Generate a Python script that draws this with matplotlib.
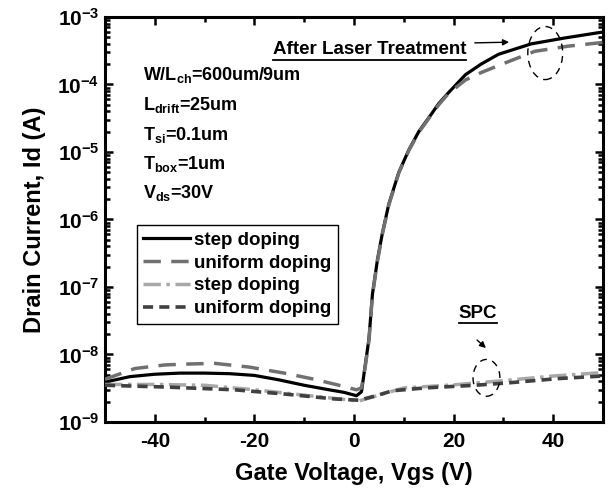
import matplotlib
matplotlib.use('Agg')
import matplotlib.pyplot as plt
import numpy as np
from matplotlib.ticker import MultipleLocator, LogLocator, FuncFormatter, NullFormatter
from matplotlib.patches import Ellipse, FancyArrowPatch

plt.rcParams['font.family'] = 'Liberation Sans'
plt.rcParams['font.weight'] = 'bold'
plt.rcParams['axes.labelweight'] = 'bold'
plt.rcParams['axes.unicode_minus'] = False
plt.rcParams['mathtext.fontset'] = 'custom'
plt.rcParams['mathtext.rm'] = 'Liberation Sans:bold'
plt.rcParams['mathtext.it'] = 'Liberation Sans:bold'
plt.rcParams['mathtext.bf'] = 'Liberation Sans:bold'
plt.rcParams['mathtext.default'] = 'rm'

# --- data ---
vgs_laser = [-50, -45, -40, -35, -30, -25, -20, -15, -10, -5, -2, 0.5, 1.5, 2.2, 3, 3.7,
             4.7, 5.7, 7, 9, 11, 13, 15.6, 17, 19, 22.4, 25.5, 29, 35.6, 42.4, 50]
id_laser_step = [3.9e-9, 4.7e-9, 5.1e-9, 5.3e-9, 5.3e-9, 5.2e-9, 4.9e-9, 4.2e-9, 3.5e-9,
                 3.0e-9, 2.75e-9, 2.45e-9, 2.8e-9, 6.5e-9, 1.7e-8, 7.8e-8, 2.5e-7, 6.3e-7,
                 1.7e-6, 5.0e-6, 1.07e-5, 2.0e-5, 3.7e-5, 5.2e-5, 7.6e-5, 1.4e-4, 2.0e-4,
                 2.8e-4, 4.0e-4, 4.9e-4, 6.0e-4]

vgs_laser_u = [-50, -44, -38, -34, -28, -21, -14, -8, -3, 0.5, 1.5, 2.2, 3, 3.7, 4.7, 5.7,
               7, 9, 11, 13, 15.6, 17, 19, 22.4, 25.5, 29.7, 36.3, 43, 50]
id_laser_uniform = [4.3e-9, 6.2e-9, 7.0e-9, 7.2e-9, 7.4e-9, 6.5e-9, 5.3e-9, 4.3e-9, 3.5e-9,
                    3.0e-9, 3.2e-9, 6.2e-9, 1.6e-8, 7.5e-8, 2.4e-7, 6.1e-7, 1.65e-6, 4.9e-6,
                    1.05e-5, 1.95e-5, 3.6e-5, 5.0e-5, 7.4e-5, 1.17e-4, 1.5e-4, 2.0e-4,
                    3.1e-4, 3.7e-4, 4.2e-4]

vgs_spc = [-50, -40, -30, -20, -10, -3, 1, 5, 10, 20, 30, 40, 50]
id_spc_step = [3.6e-9, 3.6e-9, 3.5e-9, 3.0e-9, 2.5e-9, 2.2e-9, 2.05e-9, 2.5e-9, 3.2e-9,
               3.55e-9, 4.1e-9, 4.8e-9, 5.4e-9]

vgs_spc_u = [-50, -38, -24, -14, -4, 1, 4, 7.7, 14.3, 24.3, 31, 41, 50]
id_spc_uniform = [3.5e-9, 3.3e-9, 3.0e-9, 2.6e-9, 2.2e-9, 2.1e-9, 2.4e-9, 2.9e-9, 3.2e-9,
                  3.5e-9, 3.8e-9, 4.4e-9, 4.8e-9]

legend_labels = ['step doping', 'uniform doping', 'step doping', 'uniform doping']
params = [r'W/L$_{ch}$=600um/9um', r'L$_{drift}$=25um', r'T$_{si}$=0.1um',
          r'T$_{box}$=1um', r'V$_{ds}$=30V']

fig = plt.figure(figsize=(6.09, 4.94), dpi=100)
ax = fig.add_axes([105 / 609, 72 / 494, 498 / 609, 405 / 494])

l1, = ax.plot(vgs_laser, id_laser_step, color='black', lw=2.3, zorder=3)
l2, = ax.plot(vgs_laser_u, id_laser_uniform, color='#707070', lw=2.5,
              linestyle=(0, (5, 3)), zorder=4)
l3, = ax.plot(vgs_spc, id_spc_step, color='#a8a8a8', lw=2.5,
              linestyle=(0, (5, 1.6, 1, 1.6)), zorder=4)
l4, = ax.plot(vgs_spc_u, id_spc_uniform, color='#404040', lw=2.6,
              linestyle=(0, (2.8, 1.7)), zorder=5)

ax.set_yscale('log')
ax.set_xlim(-50, 50)
ax.set_ylim(1e-9, 1e-3)
ax.xaxis.set_major_locator(MultipleLocator(20))
ax.xaxis.set_minor_locator(MultipleLocator(10))
ax.yaxis.set_major_locator(LogLocator(base=10, numticks=10))
ax.yaxis.set_minor_locator(LogLocator(base=10, subs=np.arange(2, 10), numticks=20))
ax.yaxis.set_major_formatter(FuncFormatter(lambda v, p: r'$10^{%d}$' % round(np.log10(v))))
ax.yaxis.set_minor_formatter(NullFormatter())

ax.tick_params(which='both', direction='in', top=True, right=True, width=1.8)
ax.tick_params(which='major', length=6, labelsize=15)
ax.tick_params(axis='x', which='major', pad=7)
ax.tick_params(axis='y', which='major', pad=4)
ax.tick_params(which='minor', length=3.5)
for s in ax.spines.values():
    s.set_linewidth(2.2)

ax.set_xlabel('Gate Voltage, Vgs (V)', fontsize=17, labelpad=8)
ax.set_ylabel('Drain Current, Id (A)', fontsize=17, labelpad=8)

# parameters text
for txt, yb in zip(params, [0.844, 0.770, 0.696, 0.625, 0.553]):
    ax.text(0.076, yb, txt, transform=ax.transAxes, fontsize=13,
            ha='left', va='baseline')

leg = ax.legend([l1, l2, l3, l4], legend_labels, loc='upper left',
                bbox_to_anchor=(0.064, 0.486), borderaxespad=0, fontsize=13.5,
                fancybox=False, framealpha=1, edgecolor='black', handlelength=2.5,
                handletextpad=0.2, labelspacing=0.3, borderpad=0.35)
leg.get_frame().set_linewidth(1.0)

# annotations
t1 = ax.text(0.337, 0.919, 'After Laser Treatment', transform=ax.transAxes,
             fontsize=13.5, ha='left', va='center')
t2 = ax.text(0.749, 0.269, 'SPC', transform=ax.transAxes,
             fontsize=13.5, ha='center', va='center')

fig.canvas.draw()
r = fig.canvas.get_renderer()
inv = ax.transAxes.inverted()
for t in (t1, t2):
    bb = t.get_window_extent(renderer=r)
    (x0, y0), (x1, y1) = inv.transform([(bb.x0, bb.y0), (bb.x1, bb.y1)])
    ax.plot([x0, x1], [y0 - 0.004, y0 - 0.004], transform=ax.transAxes,
            color='black', lw=1.3, clip_on=False)

for start, end in [((0.737, 0.936), (0.817, 0.938)), ((0.743, 0.207), (0.769, 0.178))]:
    ax.add_patch(FancyArrowPatch(start, end, transform=ax.transAxes, arrowstyle='-|>',
                                 color='black', lw=1.0, mutation_scale=9, zorder=6))

ax.add_patch(Ellipse((0.884, 0.911), 0.070, 0.131, transform=ax.transAxes, fill=False,
                     edgecolor='black', lw=1.0, linestyle=(0, (5, 4)), zorder=6))
ax.add_patch(Ellipse((0.766, 0.109), 0.054, 0.091, transform=ax.transAxes, fill=False,
                     edgecolor='black', lw=1.0, linestyle=(0, (5, 4)), zorder=6))

fig.savefig('out.png', dpi=100)
